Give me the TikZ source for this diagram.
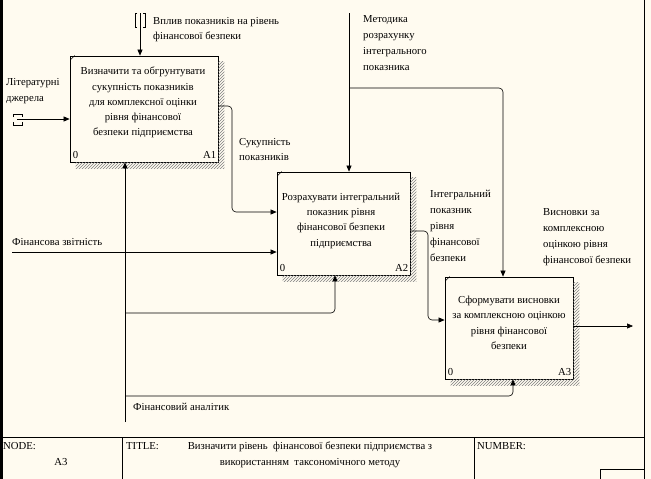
\documentclass[tikz,border=0pt]{standalone}
\usepackage{fontspec}
\setmainfont{Liberation Serif}
\usetikzlibrary{arrows.meta,patterns,calc}
\definecolor{bgc}{RGB}{255,251,240}
\newcommand\idefshadow[1]{%
  \fill[hatchfill] ($(#1.north east)+(0,6)$) rectangle ($(#1.south east)+(6,6)$);
  \fill[hatchfill] ($(#1.south west)+(6,0)$) rectangle ($(#1.south east)+(0,6)$);
  \draw[line width=0.6pt] ($(#1.north west)+(1,4)$) -- ($(#1.north west)+(5,0)$);}
\begin{document}
\begin{tikzpicture}[x=1pt,y=-1pt,
  every node/.style={inner sep=0pt, font=\fontsize{10.7}{16}\selectfont},
  box/.style={draw, line width=0.8pt, fill=bgc},
  lbl/.style={align=left, anchor=north west},
  btxt/.style={align=center, anchor=north, font=\fontsize{10.7}{15.2}\selectfont},
  arr/.style={-{Triangle[length=6pt,width=5pt]}, line width=0.6pt, rounded corners=4pt},
  plain/.style={line width=0.6pt, rounded corners=4pt},
  hatchfill/.style={pattern=north east lines, pattern color=gray},
  frame/.style={line width=0.8pt},
]
\fill[bgc] (0,0) rectangle (651,479);
\useasboundingbox (0,0) rectangle (651,479);

% frame
\draw[line width=2.5pt] (1.25,0) -- (1.25,479);
\draw[frame] (644,0) -- (644,479);
\draw[frame] (0,437) -- (644,437);
\draw[frame] (122,437) -- (122,479);
\draw[frame] (474,437) -- (474,479);
\draw[frame] (600,479) -- (600,469) -- (644,469);

% boxes
\node[box, minimum width=148pt, minimum height=106pt] (A1) at (144,109) {};
\node[box, minimum width=133pt, minimum height=103pt] (A2) at (343.5,223.5) {};
\node[box, minimum width=128pt, minimum height=102pt] (A3) at (509,328) {};
\idefshadow{A1}
\idefshadow{A2}
\idefshadow{A3}

\node[btxt] (A1t) at (143,67) {Визначити та обгрунтувати\\сукупність показників\\для комплексної оцінки\\рівня фінансової\\безпеки підприємства};
\node[btxt] (A2t) at (341,193) {Розрахувати інтегральний\\показник рівня\\фінансової безпеки\\підприємства};
\node[btxt] (A3t) at (509,296) {Сформувати висновки\\за комплексною оцінкою\\рівня фінансової\\безпеки};

\node[anchor=south west] (A1z) at ([xshift=3pt,yshift=4pt]A1.south west) {0};
\node[anchor=south east] (A1n) at ([xshift=-2pt,yshift=4pt]A1.south east) {A1};
\node[anchor=south west] (A2z) at ([xshift=3pt,yshift=4pt]A2.south west) {0};
\node[anchor=south east] (A2n) at ([xshift=-2pt,yshift=4pt]A2.south east) {A2};
\node[anchor=south west] (A3z) at ([xshift=3pt,yshift=4pt]A3.south west) {0};
\node[anchor=south east] (A3n) at ([xshift=-2pt,yshift=4pt]A3.south east) {A3};

% coordinates
\coordinate (in1) at (17,119);
\coordinate (c1) at (140,13);
\coordinate (o1) at (232,106);
\coordinate (o1b) at (232,212);
\coordinate (in2) at (12,252);
\coordinate (c2) at (349,13);
\coordinate (c2b) at (349,88);
\coordinate (c2c) at (503,88);
\coordinate (o2) at (428,231);
\coordinate (o2b) at (428,320);
\coordinate (o3) at (633,326);
\coordinate (m0) at (125,422);
\coordinate (m1) at (125,313);
\coordinate (m1b) at (335,313);
\coordinate (m2) at (125,396);
\coordinate (m2b) at (513,396);

% tunnels
\draw[line width=0.6pt] (13,117) -- (13,114) -- (22,114) -- (22,117);
\draw[line width=0.6pt] (13,122) -- (13,125) -- (22,125) -- (22,122);
\draw[line width=0.6pt] (137,13) -- (135,13) -- (135,27) -- (137,27);
\draw[line width=0.6pt] (143,13) -- (145,13) -- (145,27) -- (143,27);

% connectors
\draw[arr] (in1) -- (A1.west |- in1);
\draw[arr] (c1) -- (c1 |- A1.north);
\draw[arr] (A1.east |- o1) -- (o1) -- (o1b) -- (A2.west |- o1b);
\draw[arr] (in2) -- (A2.west |- in2);
\draw[arr] (c2) -- (c2 |- A2.north);
\draw[arr] (c2b) -- (c2c) -- (c2c |- A3.north);
\draw[arr] (A2.east |- o2) -- (o2) -- (o2b) -- (A3.west |- o2b);
\draw[arr] (A3.east |- o3) -- (o3);
\draw[arr] (m0) -- (m0 |- A1.south);
\draw[arr] (m1) -- (m1b) -- (m1b |- A2.south);
\draw[arr] (m2) -- (m2b) -- (m2b |- A3.south);

% labels
\node[lbl] (l1) at (6,78) {Літературні\\джерела};
\node[lbl, font=\fontsize{10.7}{15.5}\selectfont] (l2) at (153,17) {Вплив показників на рівень\\фінансової безпеки};
\node[lbl, font=\fontsize{10.7}{15}\selectfont] (l3) at (239,138) {Сукупність\\показників};
\node[lbl] (l4) at (363,15) {Методика\\розрахунку\\інтегрального\\показника};
\node[lbl] (l5) at (12,238) {Фінансова звітність};
\node[lbl] (l6) at (430,190) {Інтегральний\\показник\\рівня\\фінансової\\безпеки};
\node[lbl] (l7) at (543,208) {Висновки за\\комплексною\\оцінкою рівня\\фінансової безпеки};
\node[lbl] (l8) at (133,403) {Фінансовий аналітик};

% title block
\node[lbl] (tn) at (3,442) {NODE:};
\node[anchor=north] (tnv) at (61,458) {A3};
\node[lbl] (tt) at (126,442) {TITLE:};
\node[align=center, anchor=north] (ttv) at (310,442) {Визначити рівень~ фінансової безпеки підприємства з\\використанням~ таксономічного методу};
\node[lbl] (tnum) at (477,442) {NUMBER:};
\end{tikzpicture}
\end{document}
